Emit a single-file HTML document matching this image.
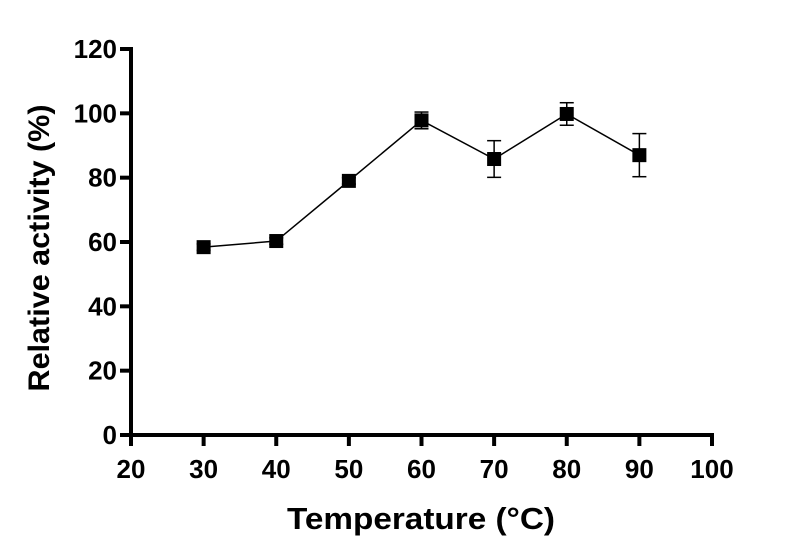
<!DOCTYPE html>
<html><head><meta charset="utf-8"><style>
html,body{margin:0;padding:0;background:#fff;width:800px;height:557px;overflow:hidden}
text{font-family:"Liberation Sans",Arial,sans-serif;font-weight:bold;fill:#000}
</style></head><body>
<svg id="chart" width="800" height="557" viewBox="0 0 800 557">
<g id="axes"></g><g id="series"></g>
<text x="421" y="529" font-size="31" text-anchor="middle" textLength="268" lengthAdjust="spacingAndGlyphs">Temperature (°C)</text>
<text transform="translate(49,248) rotate(-90)" font-size="30" text-anchor="middle" textLength="287" lengthAdjust="spacingAndGlyphs">Relative activity (%)</text>
</svg>
<script>
const temps=[30,40,50,60,70,80,90];
const activity=[58.4,60.3,79,97.8,85.8,99.8,87];
const errors=[1,1,1,2.6,5.7,3.5,6.7];
const xTicks=[20,30,40,50,60,70,80,90,100];
const yTicks=[0,20,40,60,80,100,120];
const NS="http://www.w3.org/2000/svg";
const X0=131,X1=712,Y0=435,Y1=49;
const xs=v=>X0+(v-20)/80*(X1-X0);
const ys=v=>Y0-(v/120)*(Y0-Y1);
function mk(tag,attrs,parent){const e=document.createElementNS(NS,tag);for(const k in attrs)e.setAttribute(k,attrs[k]);parent.appendChild(e);return e;}
const ax=document.getElementById('axes'),se=document.getElementById('series');
let a=mk('line',{x1:X0,y1:Y1-2,x2:X0,y2:Y0+2,stroke:'#000','stroke-width':4},ax);


a=mk('line',{x1:X0-2,y1:Y0,x2:X1+2,y2:Y0,stroke:'#000','stroke-width':4},ax);


yTicks.forEach(t=>{
  mk('line',{x1:X0-11,y1:ys(t),x2:X0,y2:ys(t),stroke:'#000','stroke-width':4},ax);
  const tx=mk('text',{x:X0-14,y:ys(t)+9,'font-size':26,'text-anchor':'end'},ax);tx.textContent=t;
  
  
});
xTicks.forEach(t=>{
  mk('line',{x1:xs(t),y1:Y0,x2:xs(t),y2:Y0+11,stroke:'#000','stroke-width':4},ax);
  const tx=mk('text',{x:xs(t),y:Y0+43,'font-size':26,'text-anchor':'middle'},ax);tx.textContent=t;
  
  
});
const pl=mk('polyline',{points:temps.map((t,i)=>xs(t)+','+ys(activity[i])).join(' '),fill:'none',stroke:'#000','stroke-width':1.5},se);


temps.forEach((t,i)=>{
  const x=xs(t),yt=ys(activity[i]+errors[i]),yb=ys(activity[i]-errors[i]);
  const g=mk('g',{},se);
  
  
  mk('line',{x1:x,y1:yt,x2:x,y2:yb,stroke:'#000','stroke-width':1.5},g);
  mk('line',{x1:x-7,y1:yt,x2:x+7,y2:yt,stroke:'#000','stroke-width':1.5},g);
  mk('line',{x1:x-7,y1:yb,x2:x+7,y2:yb,stroke:'#000','stroke-width':1.5},g);
  const r=mk('rect',{x:x-7,y:ys(activity[i])-7,width:14,height:14,fill:'#000'},se);
  
  
});
</script>
</body></html>
